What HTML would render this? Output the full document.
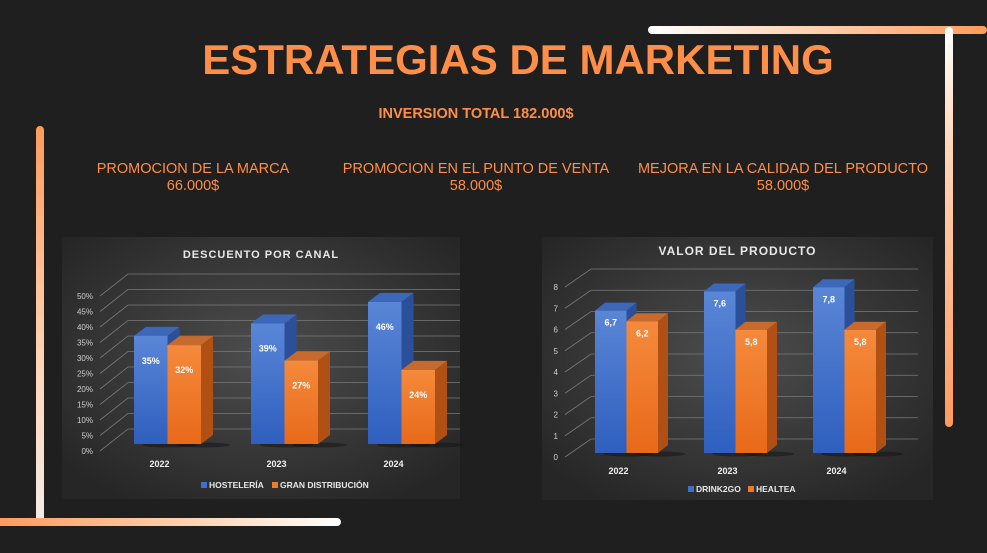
<!DOCTYPE html>
<html><head><meta charset="utf-8">
<style>
html,body{margin:0;padding:0;background:#1f1f1f;}
body{width:987px;height:553px;position:relative;overflow:hidden;font-family:"Liberation Sans",sans-serif;}
.t{position:absolute;color:#ff8f48;text-align:center;white-space:nowrap;}
.bar{position:absolute;border-radius:4px;}
svg text{font-family:"Liberation Sans",sans-serif;}
</style></head><body>
<div class="bar" style="left:648px;top:26px;width:339px;height:8px;background:linear-gradient(90deg,#fff,#ffcfae 50%,#ff9a5c);"></div>
<div class="bar" style="left:945px;top:27px;width:8px;height:400px;background:linear-gradient(180deg,#fff,#ffd5b8 30%,#ff9a5c);"></div>
<div class="bar" style="left:36px;top:126px;width:8px;height:400px;background:linear-gradient(180deg,#ff9a5c,#ffd5b8 60%,#f3ece6);"></div>
<div class="bar" style="left:-4px;top:518px;width:345px;height:8px;background:linear-gradient(90deg,#ff9a5c,#ffd5b8 60%,#fff);"></div>

<div class="t" style="left:0;width:1036px;top:36px;font-size:42px;font-weight:bold;">ESTRATEGIAS DE MARKETING</div>
<div class="t" style="left:376px;width:200px;top:106px;font-size:14.5px;font-weight:bold;">INVERSION TOTAL 182.000$</div>
<div class="t" style="left:93px;width:200px;top:161px;font-size:14.5px;line-height:17px;">PROMOCION DE LA MARCA<br>66.000$</div>
<div class="t" style="left:326px;width:300px;top:161px;font-size:14.5px;line-height:17px;">PROMOCION EN EL PUNTO DE VENTA<br>58.000$</div>
<div class="t" style="left:623px;width:320px;top:161px;font-size:14.5px;line-height:17px;">MEJORA EN LA CALIDAD DEL PRODUCTO<br>58.000$</div>

<svg id="c1" width="987" height="553" style="position:absolute;left:0;top:0"></svg>

<script>
// Chart 1 data
const cats1 = ["2022","2023","2024"];
const hosteleria = [35,39,46];
const granDist = [32,27,24];
const ticks1 = ["0%","5%","10%","15%","20%","25%","30%","35%","40%","45%","50%"];
const tickVals1 = [0,5,10,15,20,25,30,35,40,45,50];
const labels1a = ["35%","39%","46%"];
const labels1b = ["32%","27%","24%"];
// Chart 2 data
const cats2 = ["2022","2023","2024"];
const drink2go = [6.7,7.6,7.8];
const healtea = [6.2,5.8,5.8];
const ticks2 = ["0","1","2","3","4","5","6","7","8"];
const tickVals2 = [0,1,2,3,4,5,6,7,8];
const labels2a = ["6,7","7,6","7,8"];
const labels2b = ["6,2","5,8","5,8"];

const NS="http://www.w3.org/2000/svg";
const svg=document.getElementById('c1');
function mk(tag,attrs,parent){const e=document.createElementNS(NS,tag);for(const k in attrs)e.setAttribute(k,attrs[k]);(parent||svg).appendChild(e);return e;}

const defs=mk('defs',{});
defs.innerHTML=`
<radialGradient id="pbg" cx="50%" cy="45%" r="65%"><stop offset="0" stop-color="#4d4d4d"/><stop offset="1" stop-color="#262626"/></radialGradient>
<linearGradient id="gB" x1="0" y1="0" x2="0" y2="1"><stop offset="0" stop-color="#5a86d6"/><stop offset="1" stop-color="#2f5fbf"/></linearGradient>
<linearGradient id="gO" x1="0" y1="0" x2="0" y2="1"><stop offset="0" stop-color="#f58a3c"/><stop offset="1" stop-color="#e8691a"/></linearGradient>`;

function chart(cfg){
  const g=mk('g',{});
  
  
  const p=mk('rect',{x:cfg.px,y:cfg.py,width:cfg.pw,height:cfg.ph,fill:'url(#pbg)'},g);
  
  
  const t=mk('text',{x:cfg.px+cfg.pw/2,y:cfg.titleY,'text-anchor':'middle',fill:'#e8e8e8','font-size':cfg.titleSize,'font-weight':'bold','letter-spacing':'1'},g);
  t.textContent=cfg.title;
  
  
  const yF=v=>cfg.base-(v/cfg.max)*cfg.h;
  const yB=v=>cfg.backBase-(v/cfg.max)*cfg.backH;
  cfg.tickVals.forEach((v,i)=>{
    const gl=mk('polyline',{points:`${cfg.axX},${yB(v)+cfg.dy} ${cfg.backX},${yB(v)} ${cfg.backR},${yB(v)}`,fill:'none',stroke:'#7a7a7a','stroke-width':'0.8'},g);
    
    
    const tl=mk('text',{x:cfg.lblX,y:yB(v)+cfg.dy+3,'text-anchor':'end',fill:'#cfcfcf','font-size':'8'},g);
    tl.textContent=cfg.ticks[i];
    
    
  });
  cfg.cats.forEach((c,i)=>{
    const gx=cfg.g0+i*cfg.gap;
    [[cfg.s1,'#2f5fbf','url(#gB)','#2c4f99','#3d67b8',cfg.l1],[cfg.s2,'#e8691a','url(#gO)','#b05014','#c76a2e',cfg.l2]].forEach((s,j)=>{
      const v=s[0][i], x=gx+j*cfg.bw, top=yF(v), b=cfg.base, d=cfg.bd, e=cfg.be;
      const sh=mk('ellipse',{cx:x+cfg.bw+2,cy:b+1,rx:cfg.bw*0.8,ry:2.5,fill:'#111',opacity:'0.5'},g);
      
      
      const side=mk('polygon',{points:`${x+cfg.bw},${top} ${x+cfg.bw+d},${top-e} ${x+cfg.bw+d},${b-e} ${x+cfg.bw},${b}`,fill:s[3]},g);
      
      
      const tp=mk('polygon',{points:`${x},${top} ${x+d},${top-e} ${x+cfg.bw+d},${top-e} ${x+cfg.bw},${top}`,fill:s[4]},g);
      
      
      const r=mk('rect',{x:x,y:top,width:cfg.bw,height:b-top,fill:s[2]},g);
      
      
      const vl=mk('text',{x:x+cfg.bw/2,y:top+cfg.lblOff,'text-anchor':'middle',fill:'#fff','font-size':'9','font-weight':'bold'},g);
      vl.textContent=s[5][i];
      
      
    });
    const cl=mk('text',{x:gx+cfg.bw+cfg.catDx,y:cfg.catY,'text-anchor':'middle',fill:'#f0f0f0','font-size':'9','font-weight':'bold'},g);
    cl.textContent=c;
    
    
  });
  [[cfg.leg1,'#3d6fcf',cfg.legX1],[cfg.leg2,'#f07a2a',cfg.legX2]].forEach(l=>{
    const sq=mk('rect',{x:l[2],y:cfg.legY-6,width:6,height:6,fill:l[1]},g);
    
    
    const lt=mk('text',{x:l[2]+8,y:cfg.legY,fill:'#e8e8e8','font-size':'8.5','font-weight':'bold'},g);
    lt.textContent=l[0];
    
    
  });
}

chart({name:'discount-by-channel-chart',title:'DESCUENTO POR CANAL',titleY:258,titleSize:11,px:62,py:237,pw:398,ph:262,
  cats:cats1,s1:hosteleria,s2:granDist,l1:labels1a,l2:labels1b,n1:'hosteleria',n2:'gran-distribucion',
  ticks:ticks1,tickVals:tickVals1,max:50,base:444,h:154.5,backBase:429,backH:155,dy:22,
  axX:100,backX:128,backR:460,lblX:93,g0:134,gap:117,bw:33.5,bd:12,be:9,lblOff:28,catDx:-8,catY:467,
  leg1:'HOSTELERÍA',leg2:'GRAN DISTRIBUCIÓN',legX1:201,legX2:272,legY:488});

chart({name:'product-value-chart',title:'VALOR DEL PRODUCTO',titleY:255,titleSize:12,px:542,py:237,pw:391,ph:263,
  cats:cats2,s1:drink2go,s2:healtea,l1:labels2a,l2:labels2b,n1:'drink2go',n2:'healtea',
  ticks:ticks2,tickVals:tickVals2,max:8,base:453,h:170,backBase:439,backH:170,dy:18,
  axX:565,backX:591,backR:918,lblX:558,g0:595,gap:109,bw:31.5,bd:10,be:8,lblOff:15,catDx:-8,catY:474,
  leg1:'DRINK2GO',leg2:'HEALTEA',legX1:688,legX2:748,legY:492});
</script>
</body></html>
